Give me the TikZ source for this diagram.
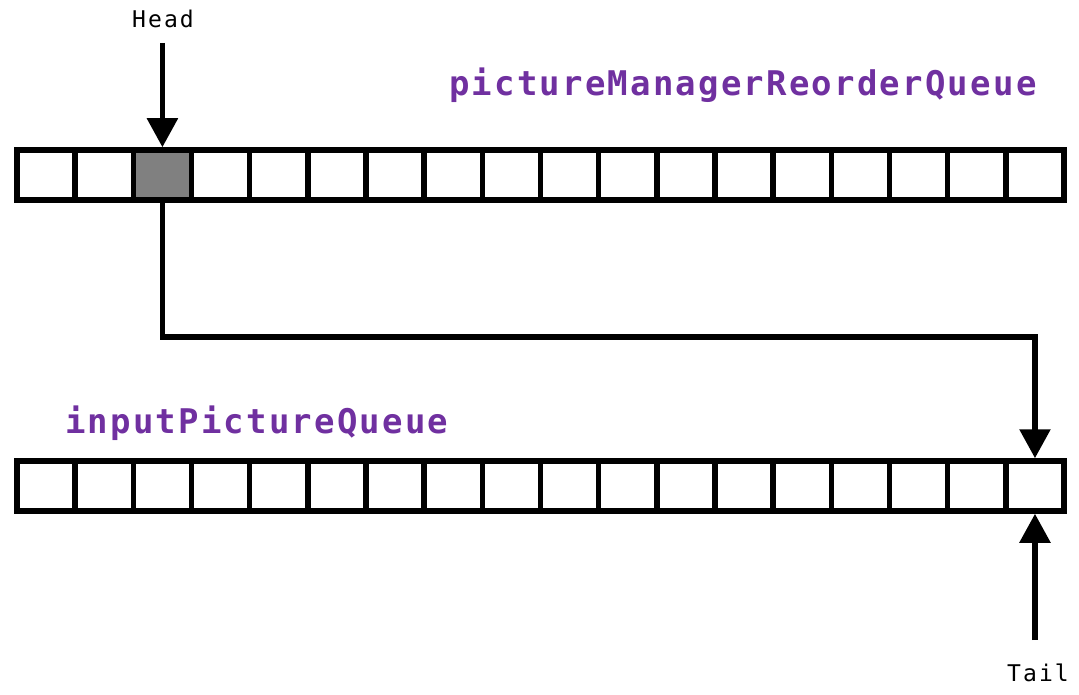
\documentclass[tikz,border=0pt]{standalone}
\usepackage{fontspec}
\usetikzlibrary{arrows.meta}
\definecolor{qpurple}{HTML}{7030A0}
\newfontfamily\ptrfont[LetterSpace=9]{DejaVu Sans Mono}
\newfontfamily\qnamefont[LetterSpace=6.5]{DejaVu Sans Mono}
\begin{document}
\begin{tikzpicture}[x=1pt, y=-1pt, line width=5.5pt,
  cell/.style={draw, minimum width=58.17pt, minimum height=50pt, inner sep=0pt},
  ptr/.style={-{Triangle[length=29pt,width=30pt]}},
  qname/.style={anchor=base west, text=qpurple, font=\qnamefont\bfseries\fontsize{34}{34}\selectfont},
  ptrlabel/.style={anchor=base, font=\ptrfont\fontsize{23}{23}\selectfont}]
\useasboundingbox (0,0) rectangle (1079,695);
\foreach \i in {0,...,17}{
  \node[cell] (top\i) at ({17+58.17*(\i+0.5)},175) {};
  \node[cell] (bot\i) at ({17+58.17*(\i+0.5)},486) {};
}
\node[cell, fill=gray] (top2) at ({17+58.17*2.5},175) {};
\node[qname] (topname) at (443,96) {pictureManagerReorderQueue};
\node[qname] (botname) at (59,433) {inputPictureQueue};
\node[ptrlabel] (head) at (163,28) {Head};
\node[ptrlabel] (tail) at (1038,681) {Tail};
\coordinate (headstart) at (top2.north |- 0,43);
\coordinate (tailstart) at (bot17.south |- 0,640);
\coordinate (turn) at (bot17.north |- 0,337);
\draw[ptr] (headstart) -- (top2.north);
\draw[ptr] (top2.south) |- (turn) -- (bot17.north);
\draw[ptr] (tailstart) -- (bot17.south);
\end{tikzpicture}
\end{document}
